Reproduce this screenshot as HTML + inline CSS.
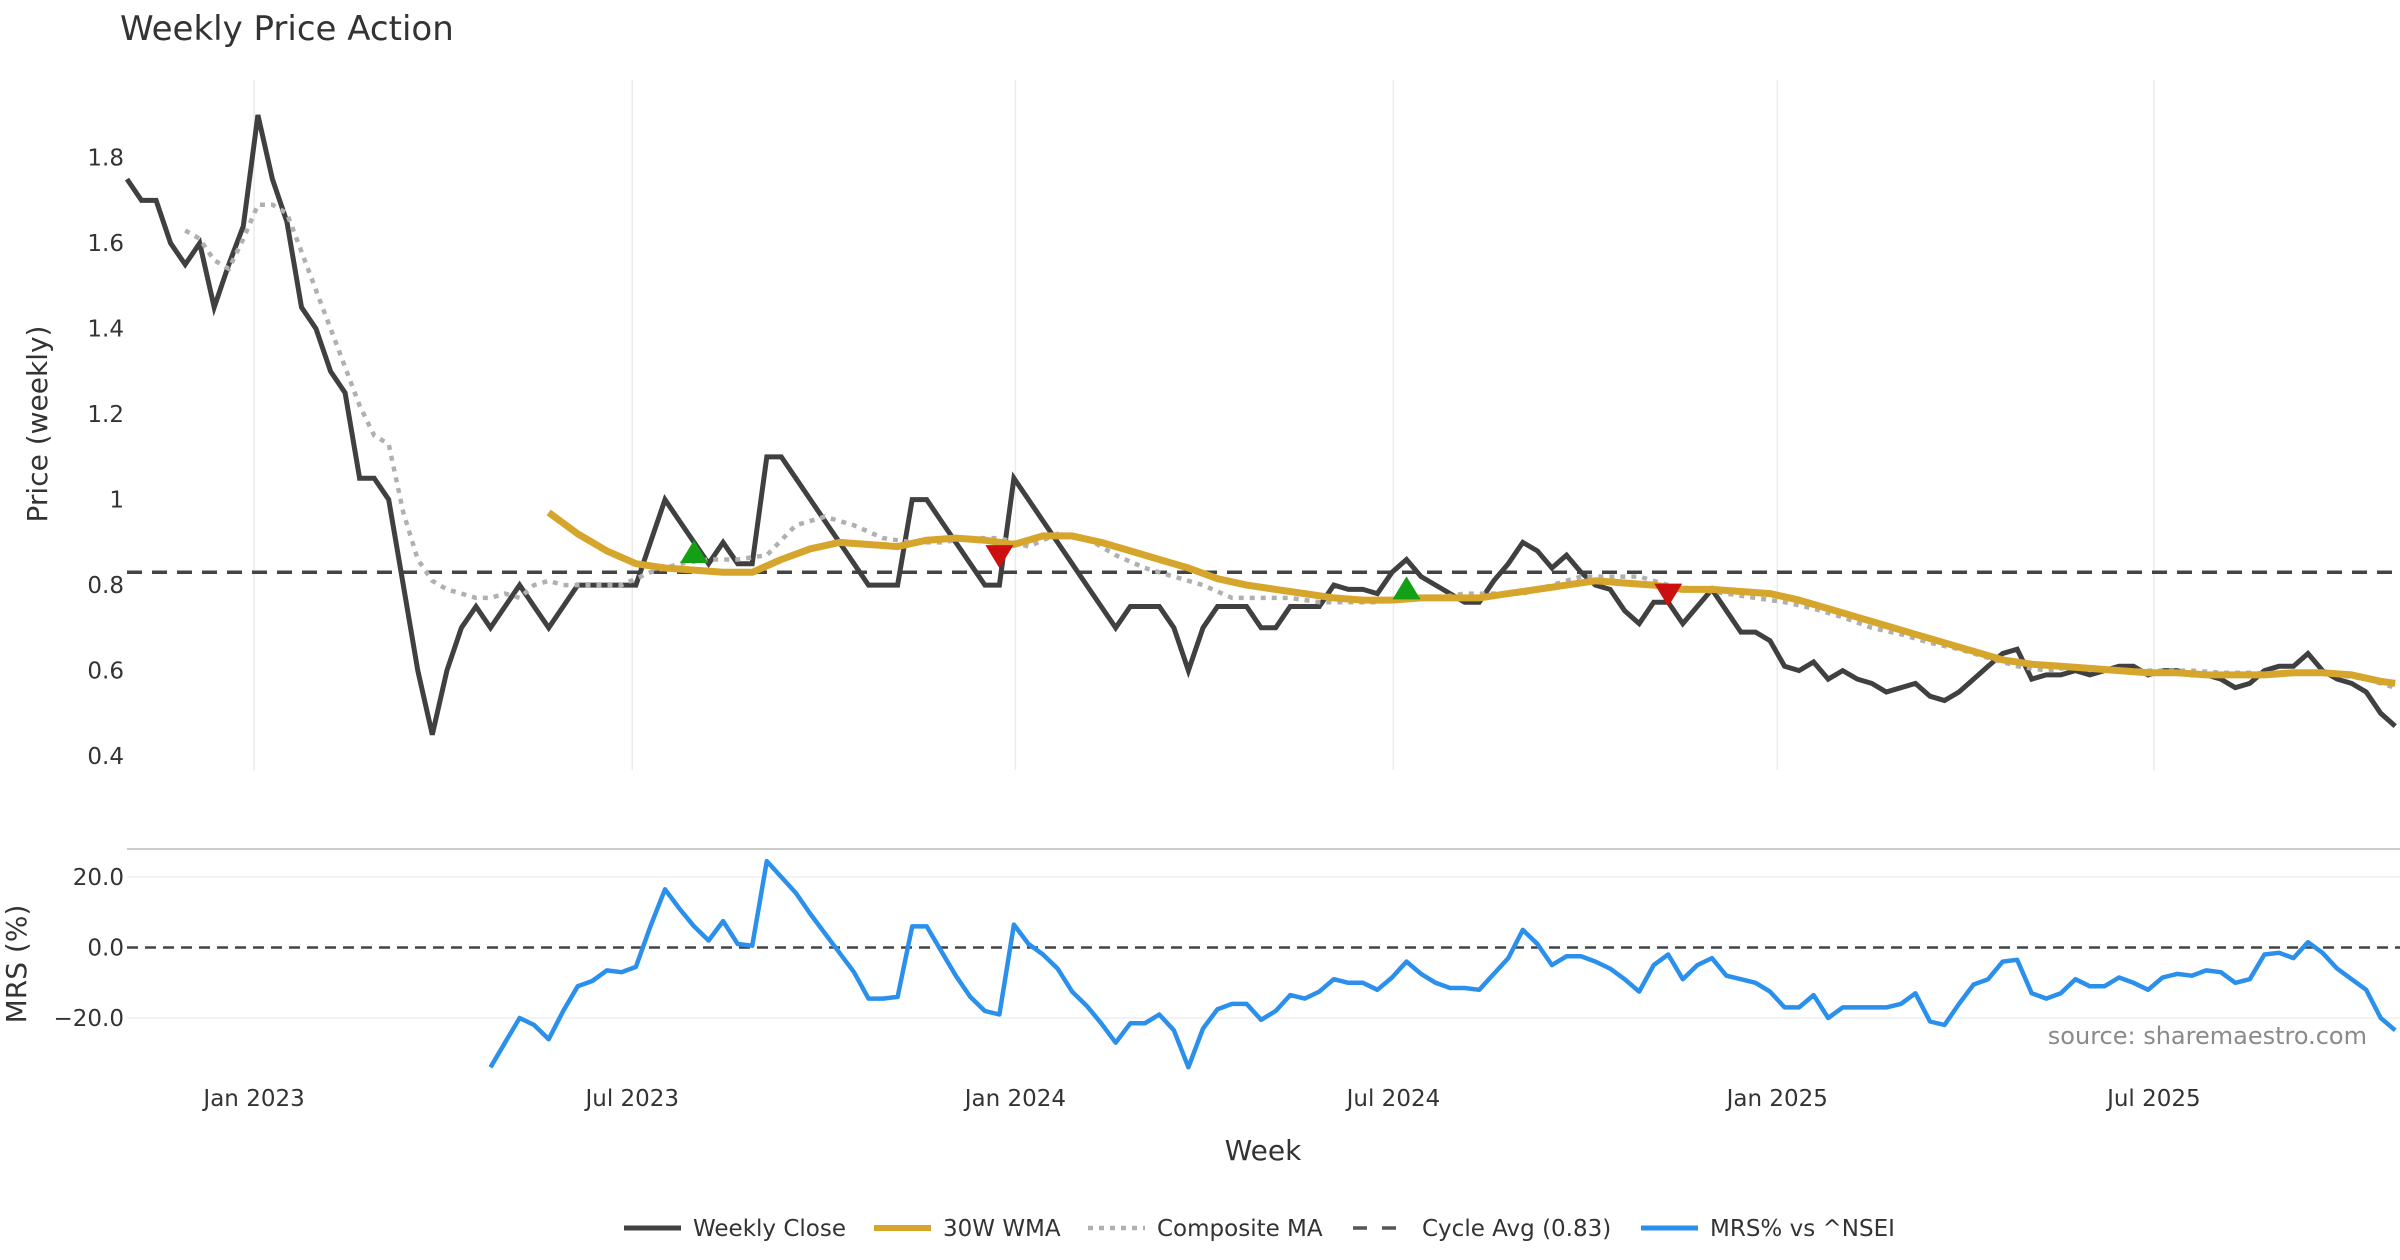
<!DOCTYPE html>
<html><head><meta charset="utf-8"><style>
html,body{margin:0;padding:0;background:#fff;}
svg{display:block;font-family:"DejaVu Sans","Liberation Sans",sans-serif;}
</style></head><body>
<svg id="chart" width="2400" height="1260" viewBox="0 0 2400 1260">
<text x="120" y="40" font-size="34" fill="#333">Weekly Price Action</text>
<g id="grid"></g><g id="series"></g><g id="axes"></g>
</svg>
<script>
// ---- data ----
const tickLabelsX = ["Jan 2023","Jul 2023","Jan 2024","Jul 2024","Jan 2025","Jul 2025"];
const tickWeeksX = [8.74,34.75,61.1,87.1,113.5,139.4];
const priceTicks = [1.8,1.6,1.4,1.2,1.0,0.8,0.6,0.4];
const priceTickLabels = ["1.8","1.6","1.4","1.2","1","0.8","0.6","0.4"];
const mrsTicks = [20,0,-20];
const mrsTickLabels = ["20.0","0.0","−20.0"];
const closeValues = [1.75,1.70,1.70,1.60,1.55,1.60,1.45,1.55,1.64,1.90,1.75,1.65,1.45,1.40,1.30,1.25,1.05,1.05,1.00,0.80,0.60,0.45,0.60,0.70,0.75,0.70,0.75,0.80,0.75,0.70,0.75,0.80,0.80,0.80,0.80,0.80,
0.90,1.00,0.95,0.90,0.85,0.90,0.85,0.85,1.10,1.10,1.05,1.00,0.95,0.90,0.85,0.80,0.80,0.80,1.00,1.00,0.95,0.90,0.85,0.80,0.80,1.05,1.00,0.95,0.90,0.85,0.80,0.75,0.70,0.75,0.75,0.75,0.70,0.60,0.70,0.75,0.75,0.75,0.70,0.70,0.75,0.75,0.75,0.80,
0.79,0.79,0.78,0.83,0.86,0.82,0.80,0.78,0.76,0.76,0.81,0.85,0.90,0.88,0.84,0.87,0.83,0.80,0.79,0.74,0.71,0.76,0.76,0.71,0.75,0.79,0.74,0.69,0.69,0.67,0.61,0.60,0.62,0.58,0.60,0.58,0.57,0.55,0.56,0.57,0.54,0.53,0.55,0.58,0.61,0.64,0.65,0.58,0.59,0.59,0.60,0.59,0.60,0.61,0.61,0.59,0.60,0.60,0.59,0.59,0.58,0.56,0.57,0.60,0.61,0.61,0.64,0.60,0.58,0.57,0.55,0.50,0.47];
const wmaWeeks = [29,31,33,35,37,39,41,43,45,47,49,51,53,55,57,59,61,63,65,67,69,71,73,75,77,79,81,83,85,87,89,91,93,95,97,99,101,103,105,107,109,111,113,115,117,119,121,123,125,127,129,131,133,135,137,139,141,143,145,147,149,151,153,155,156];
const wmaValues = [0.97,0.92,0.88,0.85,0.84,0.835,0.83,0.83,0.86,0.885,0.90,0.895,0.89,0.905,0.91,0.905,0.895,0.915,0.915,0.90,0.88,0.86,0.84,0.815,0.80,0.79,0.78,0.77,0.765,0.765,0.77,0.77,0.77,0.78,0.79,0.80,0.81,0.805,0.80,0.79,0.79,0.785,0.78,0.765,0.745,0.725,0.705,0.685,0.665,0.645,0.625,0.615,0.61,0.605,0.60,0.595,0.595,0.59,0.59,0.59,0.595,0.595,0.59,0.575,0.57];
const compWeeks = [4,5,6,7,8,9,10,11,12,13,14,15,16,17,18,19,20,21,22,23,24,25,26,27,28,29,30,32,34,36,38,40,42,44,46,48,50,52,54,56,58,60,62,64,66,68,70,72,74,76,78,80,82,84,86,88,90,92,94,96,98,100,102,104,106,108,110,112,114,116,118,120,122,124,126,128,130,132,134,136,138,140,142,144,146,148,150,152,154,156];
const compValues = [1.63,1.61,1.56,1.54,1.61,1.69,1.69,1.67,1.58,1.49,1.40,1.31,1.22,1.15,1.13,0.97,0.86,0.81,0.79,0.78,0.77,0.77,0.78,0.77,0.80,0.81,0.80,0.80,0.80,0.83,0.85,0.86,0.86,0.87,0.94,0.96,0.94,0.91,0.90,0.90,0.91,0.91,0.89,0.92,0.91,0.87,0.84,0.82,0.80,0.77,0.77,0.77,0.76,0.76,0.76,0.77,0.77,0.78,0.78,0.78,0.80,0.82,0.82,0.82,0.80,0.79,0.78,0.77,0.76,0.745,0.725,0.70,0.685,0.665,0.65,0.63,0.61,0.60,0.61,0.605,0.60,0.60,0.60,0.595,0.595,0.59,0.595,0.59,0.58,0.56];
const mrsStart = 25;
const mrsValues = [-34,-27,-20,-22,-26,-18,-11,-9.5,-6.5,-7,-5.5,6,16.5,11,6,2,7.5,1,0.5,24.5,20,15.5,9.5,4,-1.5,-7,-14.5,-14.5,-14,6,6,-1,-8,-14,-18,-19,6.5,1,-2,-6,-12.5,-16.5,-21.5,-27,-21.5,-21.5,-19,-23.5,-34,-23,-17.5,-16,-16,-20.5,-18,-13.5,-14.5,-12.5,-9,-10,-10,-12,-8.5,-4,-7.5,-10,-11.5,-11.5,-12,-7.5,-3,5,1,-5,-2.5,-2.5,-4,-6,-9,-12.5,-5,-2,-9,-5,-3,-8,-9,-10,-12.5,-17,-17,-13.5,-20,-17,-17,-17,-17,-16,-13,-21,-22,-16,-10.5,-9,-4,-3.5,-13,-14.5,-13,-9,-11,-11,-8.5,-10,-12,-8.5,-7.5,-8,-6.5,-7,-10,-9,-2,-1.5,-3,1.5,-1.5,-6,-9,-12,-20,-23.5];
const cycleAvg = 0.83;
const buyWeeks = [39,88];
const buyValues = [0.875,0.79];
const sellWeeks = [60,106];
const sellValues = [0.87,0.78];

// ---- scales ----
const X0=127, XW=14.54;
const xs = w => X0 + w*XW;
const yp = v => 157.7 + (1.8-v)*427.4;
const ym = v => 947.5 - v*3.525;
const NS="http://www.w3.org/2000/svg";
function mk(tag, attrs, parent){const e=document.createElementNS(NS,tag);for(const k in attrs)e.setAttribute(k,attrs[k]);parent.appendChild(e);return e;}
const grid=document.getElementById('grid'), ser=document.getElementById('series'), ax=document.getElementById('axes');

tickWeeksX.forEach((w,i)=>{
  const g=mk('line',{x1:xs(w),x2:xs(w),y1:80,y2:770,stroke:'#ebebeb','stroke-width':1.5},grid);
  
  
  const t=mk('text',{x:xs(w),y:1106,'font-size':23,fill:'#333','text-anchor':'middle'},ax);
  t.textContent=tickLabelsX[i];
  
  
});
priceTicks.forEach((v,i)=>{
  const t=mk('text',{x:124,y:yp(v)+8,'font-size':23,fill:'#333','text-anchor':'end'},ax);
  t.textContent=priceTickLabels[i];
  
  
});
const sep=mk('line',{x1:127,x2:2400,y1:849,y2:849,stroke:'#cccccc','stroke-width':2},grid);


mrsTicks.forEach((v,i)=>{
  if(v!==0){const l=mk('line',{x1:127,x2:2400,y1:ym(v),y2:ym(v),stroke:'#ebeef2','stroke-width':1.5},grid);
  
  }
  const t=mk('text',{x:124,y:ym(v)+8,'font-size':23,fill:'#333','text-anchor':'end'},ax);
  t.textContent=mrsTickLabels[i];
  
  
});
const zl=mk('line',{x1:127,x2:2400,y1:ym(0),y2:ym(0),stroke:'#444','stroke-width':2.5,'stroke-dasharray':'11,7'},grid);



function pts(ws,vs,yf){return ws.map((w,i)=>xs(w).toFixed(1)+','+yf(vs[i]).toFixed(1)).join(' ');}
const ca=mk('line',{x1:127,x2:2400,y1:yp(cycleAvg),y2:yp(cycleAvg),stroke:'#444','stroke-width':3.5,'stroke-dasharray':'15,10'},ser);


const cw=closeValues.map((_,i)=>i);
const cl=mk('polyline',{points:pts(cw,closeValues,yp),fill:'none',stroke:'#404040','stroke-width':5,'stroke-linejoin':'miter'},ser);


const cm=mk('polyline',{points:pts(compWeeks,compValues,yp),fill:'none',stroke:'#b0b0b0','stroke-width':4.5,'stroke-dasharray':'5,6'},ser);


const wm=mk('polyline',{points:pts(wmaWeeks,wmaValues,yp),fill:'none',stroke:'#d6a52b','stroke-width':7,'stroke-linejoin':'round'},ser);


buyWeeks.forEach((w,i)=>{const x=xs(w),y=yp(buyValues[i]);
  const p=mk('polygon',{points:`${x-14},${y+10} ${x+14},${y+10} ${x},${y-13}`,fill:'#14a014'},ser);
  
  });
sellWeeks.forEach((w,i)=>{const x=xs(w),y=yp(sellValues[i]);
  const p=mk('polygon',{points:`${x-14},${y-10} ${x+14},${y-10} ${x},${y+13}`,fill:'#cc1010'},ser);
  
  });
const mw=mrsValues.map((_,i)=>mrsStart+i);
const ml=mk('polyline',{points:pts(mw,mrsValues,ym),fill:'none',stroke:'#2b90ec','stroke-width':4.5,'stroke-linejoin':'round'},ser);


</script>
<svg style="position:absolute;left:0;top:0" width="2400" height="1260">
<text x="0" y="0" transform="translate(47,424) rotate(-90)" text-anchor="middle" font-size="28" fill="#333" font-family="DejaVu Sans, Liberation Sans, sans-serif">Price (weekly)</text>
<text x="0" y="0" transform="translate(26,964) rotate(-90)" text-anchor="middle" font-size="28" fill="#333" font-family="DejaVu Sans, Liberation Sans, sans-serif">MRS (%)</text>
<text x="1263" y="1160" text-anchor="middle" font-size="28" fill="#333" font-family="DejaVu Sans, Liberation Sans, sans-serif">Week</text>
<text x="2367" y="1044" text-anchor="end" font-size="24" fill="#8a8a8a" font-family="DejaVu Sans, Liberation Sans, sans-serif">source: sharemaestro.com</text>
<g font-size="23" fill="#333" font-family="DejaVu Sans, Liberation Sans, sans-serif">
<line x1="624" x2="681" y1="1228" y2="1228" stroke="#404040" stroke-width="5"/>
<text x="693" y="1236">Weekly Close</text>
<line x1="874" x2="931" y1="1228" y2="1228" stroke="#d6a52b" stroke-width="6"/>
<text x="943" y="1236">30W WMA</text>
<line x1="1088" x2="1145" y1="1228" y2="1228" stroke="#b0b0b0" stroke-width="4.5" stroke-dasharray="5,6"/>
<text x="1157" y="1236">Composite MA</text>
<line x1="1353" x2="1410" y1="1228" y2="1228" stroke="#555" stroke-width="3.5" stroke-dasharray="14,15"/>
<text x="1422" y="1236">Cycle Avg (0.83)</text>
<line x1="1641" x2="1698" y1="1228" y2="1228" stroke="#2b90ec" stroke-width="5"/>
<text x="1710" y="1236">MRS% vs ^NSEI</text>
</g>
</svg>
</body></html>
